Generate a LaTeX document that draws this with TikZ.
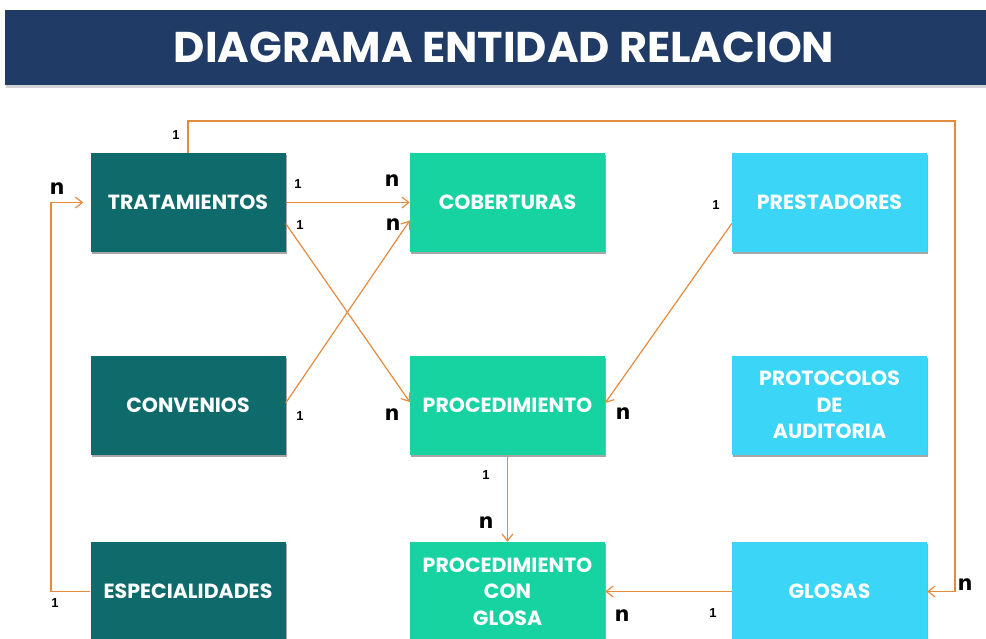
\documentclass[tikz,border=0pt]{standalone}
\usepackage{fontspec}
\setmainfont{Poppins}
\newfontfamily\cardfont{Liberation Sans}
\newfontfamily\cardnfont{DejaVu Sans}
\usetikzlibrary{arrows.meta,shadows}

\definecolor{Titulo}{HTML}{1F3B66}
\definecolor{Oscuro}{HTML}{0F6B6B}
\definecolor{Verde}{HTML}{17D3A1}
\definecolor{Celeste}{HTML}{3BD5F8}
\definecolor{Linea}{HTML}{E38B3E}

\begin{document}
\begin{tikzpicture}[x=1pt, y=-1pt,
  caja/.style={rectangle, minimum width=195pt, minimum height=99pt, inner sep=0pt, align=center,
    text=white, font=\bfseries\fontsize{20.5}{26.5}\selectfont,
    drop shadow={shadow xshift=1pt, shadow yshift=-2pt, opacity=0.35, fill=black}},
  rel/.style={draw=Linea, line width=1.2pt, -{Straight Barb[length=7pt,width=11pt]}},
  card/.style={font=\cardfont\bfseries\fontsize{13}{13}\selectfont, inner sep=0pt},
  cardn/.style={font=\cardnfont\bfseries\fontsize{21}{21}\selectfont, inner sep=0pt}]

 \useasboundingbox (0,0) rectangle (986,639);
 \clip (0,0) rectangle (986,639);

 %%%%%%%%%% Titulo %%%%%%%%%%
 \fill [Titulo, drop shadow={shadow xshift=1pt, shadow yshift=-3pt, opacity=0.35}] (5,10) rectangle (995,85);
 \node [text=white, font=\bfseries\fontsize{43}{43}\selectfont] (titulo) at (504,47) {DIAGRAMA ENTIDAD RELACION};

 %%%%%%%%%% Puntos de quiebre %%%%%%%%%%
 \coordinate (c1) at (955,121) ;
 \coordinate (c2) at (51,202.5) ;

 %%%%%%%%%% Entidades %%%%%%%%%%
 \node [caja, fill=Oscuro] (trat) at (188,202.5) {TRATAMIENTOS};
 \node [caja, fill=Verde] (cob) at (507.5,202.5) {COBERTURAS};
 \node [caja, fill=Celeste] (prest) at (829.5,202.5) {PRESTADORES};

 \node [caja, fill=Oscuro] (conv) at (188,405) {CONVENIOS};
 \node [caja, fill=Verde] (proc) at (507.5,405) {PROCEDIMIENTO};
 \node [caja, fill=Celeste] (prot) at (829.5,405) {PROTOCOLOS\\DE\\AUDITORIA};

 \node [caja, fill=Oscuro] (esp) at (188,591.5) {ESPECIALIDADES};
 \node [caja, fill=Verde] (pcg) at (507.5,591.5) {PROCEDIMIENTO\\CON\\GLOSA};
 \node [caja, fill=Celeste] (glo) at (829.5,591.5) {GLOSAS};

 %%%%%%%%%% Relaciones %%%%%%%%%%
 \draw [rel] (trat.east) -- (cob.west) ;
 \draw [rel] ([yshift=-21pt]trat.east) -- ([yshift=3pt]proc.west) ;
 \draw [rel] ([yshift=2pt]conv.east) -- ([yshift=-18pt]cob.west) ;
 \draw [rel] ([yshift=-21pt]prest.west) -- ([yshift=2pt]proc.east) ;
 \draw [rel] (proc.south) -- (pcg.north) ;
 \draw [rel] (glo.west) -- (pcg.east) ;
 \draw [rel] (trat.north) |- (c1) |- (glo.east) ;
 \draw [rel, shorten >=7pt] (esp.west) -| (c2) -- (trat.west) ;

 %%%%%%%%%% Cardinalidades %%%%%%%%%%
 \node [card] (u1) at (176,135) {1};
 \node [cardn] (n1) at (57,189) {n};
 \node [card] (u2) at (298,184) {1};
 \node [cardn] (n2) at (392,181) {n};
 \node [card] (u3) at (300,225) {1};
 \node [cardn] (n3) at (393,225) {n};
 \node [card] (u4) at (300,416) {1};
 \node [cardn] (n4) at (392,415) {n};
 \node [cardn] (n5) at (623,414) {n};
 \node [card] (u5) at (716,205) {1};
 \node [card] (u6) at (486,475) {1};
 \node [cardn] (n6) at (486,523) {n};
 \node [cardn] (n7) at (622,616) {n};
 \node [card] (u7) at (713,613) {1};
 \node [cardn] (n8) at (965,585) {n};
 \node [card] (u8) at (55,603) {1};

\end{tikzpicture}
\end{document}
